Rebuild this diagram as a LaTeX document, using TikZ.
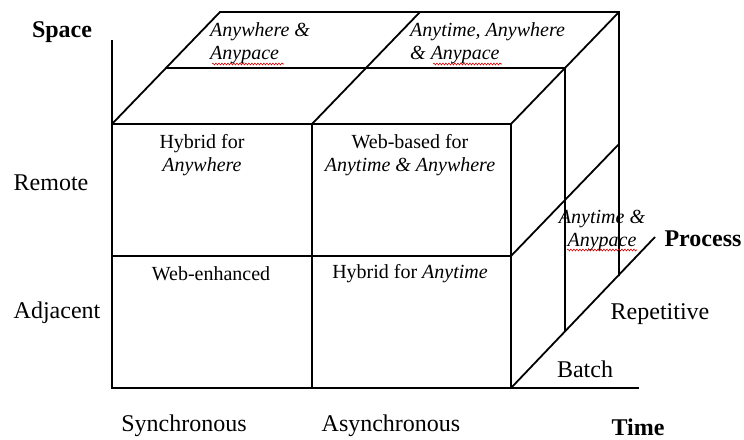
\documentclass[tikz,border=0pt]{standalone}
\usepackage{fontspec}
\setmainfont{Liberation Serif}
\usetikzlibrary{decorations.pathmorphing}
\begin{document}
\begin{tikzpicture}[x=1pt,y=-1pt,
  edge/.style={line width=1.8pt,line join=miter},
  axislbl/.style={font=\fontsize{24}{27}\selectfont,inner sep=0pt},
  axisbold/.style={font=\fontsize{24}{27}\selectfont\bfseries,inner sep=0pt},
  cell/.style={font=\fontsize{20}{23}\selectfont,inner sep=0pt,align=center},
  topcell/.style={font=\fontsize{20}{23}\selectfont\itshape,inner sep=0pt,align=left,anchor=north west},
  squig/.style={red!85!black,line width=0.6pt,decorate,decoration={snake,amplitude=0.9pt,segment length=3pt}}]
\useasboundingbox (0,0) rectangle (744,439);
% front face coordinates
\coordinate (A) at (112,388); \coordinate (B) at (312,388); \coordinate (C) at (511,388);
\coordinate (D) at (112,256); \coordinate (E) at (312,256); \coordinate (F) at (511,256);
\coordinate (G) at (112,124); \coordinate (H) at (312,124); \coordinate (I) at (511,124);
\coordinate (G1) at (166,68); \coordinate (H1) at (366,68); \coordinate (I1) at (565,68);
\coordinate (G2) at (220,12); \coordinate (H2) at (420,12); \coordinate (I2) at (619,12);
\coordinate (F2) at (619,144);
\coordinate (C1) at (565,332); \coordinate (C2) at (619,276);
\coordinate (spaceend) at (112,40);
\coordinate (timeend) at (639,388);
\coordinate (procend) at (655,237);
% lines
\draw[edge] (spaceend) -- (A) -- (timeend);
\draw[edge] (G) -- (I) -- (C);
\draw[edge] (H) -- (B);
\draw[edge] (D) -- (F);
\draw[edge] (G) -- (G2) -- (I2) -- (C2);
\draw[edge] (H) -- (H2);
\draw[edge] (I) -- (I2);
\draw[edge] (G1) -- (I1) -- (C1);
\draw[edge] (F) -- (F2);
\draw[edge] (C) -- (procend);
% axis labels
\node[axisbold] (space) at (62,32) {Space};
\node[axislbl] (remote) at (51,183) {Remote};
\node[axislbl] (adjacent) at (57,313) {Adjacent};
\node[axislbl] (sync) at (184,426) {Synchronous};
\node[axislbl] (async) at (391,426) {Asynchronous};
\node[axisbold] (time) at (638,427) {Time};
\node[axislbl] (batch) at (585,369) {Batch};
\node[axislbl] (repet) at (660,314) {Repetitive};
\node[axisbold] (process) at (703,239) {Process};
% cell labels
\node[cell] (hybany) at (202,155) {Hybrid for\\\itshape Anywhere};
\node[cell] (webbased) at (410,155) {Web-based for\\\itshape Anytime \& Anywhere};
\node[cell] (webenh) at (211,274) {Web-enhanced};
\node[cell] (hybtime) at (410,274) {Hybrid for \textit{Anytime}};
\node[cell,font=\fontsize{20}{23}\selectfont\itshape] (anypace) at (602,231) {Anytime \&\\Anypace};
\node[topcell] (topleft) at (210,22) {Anywhere \&\\Anypace};
\node[topcell] (topright) at (410,22) {Anytime, Anywhere\\\& Anypace};
% spell-check squiggles
\draw[squig] (212,64) -- (284,64);
\draw[squig] (433,64) -- (502,64);
\draw[squig] (567,250) -- (637,250);
\end{tikzpicture}
\end{document}
